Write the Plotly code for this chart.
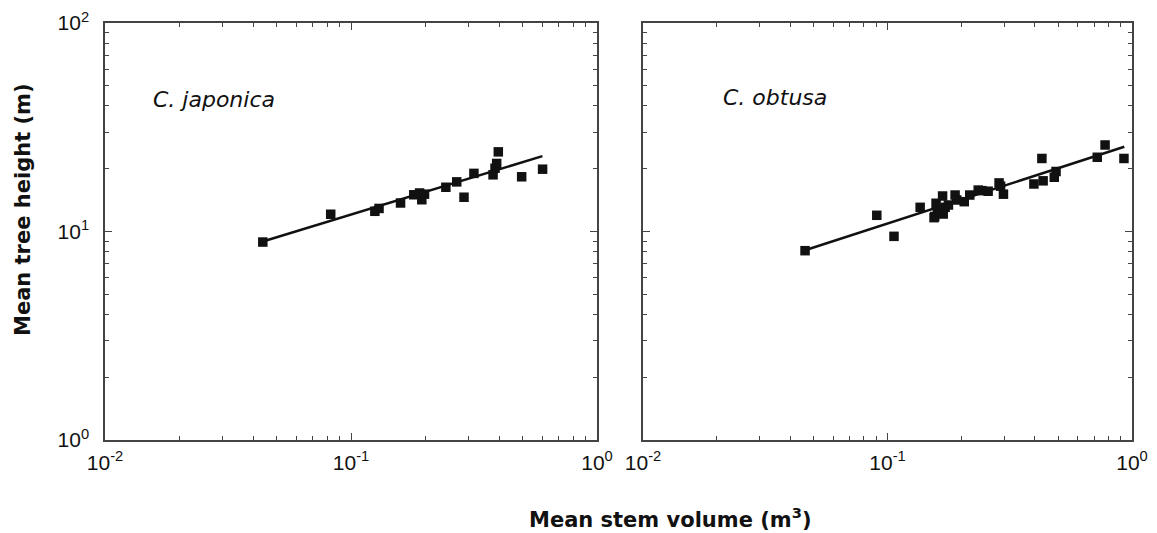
import plotly.graph_objects as go

# C. japonica data (mean stem volume m3, mean tree height m)
jap_volume = [0.0438, 0.0827, 0.125, 0.130, 0.159, 0.180, 0.190, 0.194, 0.199, 0.243,
              0.269, 0.288, 0.316, 0.378, 0.385, 0.391, 0.397, 0.494, 0.601]
jap_height = [8.9, 12.1, 12.5, 12.9, 13.7, 15.0, 15.3, 14.2, 15.1, 16.3,
              17.3, 14.6, 19.0, 18.7, 20.1, 21.2, 24.1, 18.3, 19.9]
jap_fit_volume = [0.0438, 0.60]
jap_fit_height = [8.95, 23.0]

# C. obtusa data
obt_volume = [0.0460, 0.0904, 0.1063, 0.136, 0.155, 0.156, 0.158, 0.160, 0.168, 0.169,
              0.172, 0.1775, 0.189, 0.192, 0.206, 0.217, 0.235, 0.243, 0.258, 0.286,
              0.290, 0.298, 0.397, 0.428, 0.433, 0.481, 0.489, 0.721, 0.776, 0.927]
obt_height = [8.09, 11.96, 9.48, 13.06, 11.65, 11.8, 13.66, 12.45, 14.8, 12.13,
              13.06, 13.4, 14.96, 14.16, 13.9, 14.96, 15.8, 15.7, 15.6, 17.1,
              16.5, 15.1, 16.9, 22.4, 17.5, 18.2, 19.4, 22.7, 26.0, 22.4]
obt_fit_volume = [0.0470, 0.93]
obt_fit_height = [8.2, 25.5]

x_tickvals = [0.01, 0.1, 1]
x_ticktext = ["10<sup>-2</sup>", "10<sup>-1</sup>", "10<sup>0</sup>"]
y_tickvals = [1, 10, 100]
y_ticktext = ["10<sup>0</sup>", "10<sup>1</sup>", "10<sup>2</sup>"]

INK = "#111111"
AXC = "#444444"
FONT = "Liberation Sans"
TFONT = "DejaVu Sans"

fig = go.Figure()

for xs, ys, fx, fy, xa, ya in [
    (jap_volume, jap_height, jap_fit_volume, jap_fit_height, "x", "y"),
    (obt_volume, obt_height, obt_fit_volume, obt_fit_height, "x2", "y2"),
]:
    fig.add_trace(go.Scatter(x=fx, y=fy, mode="lines", line=dict(color=INK, width=2.5),
                             xaxis=xa, yaxis=ya, showlegend=False, hoverinfo="skip"))
    fig.add_trace(go.Scatter(x=xs, y=ys, mode="markers",
                             marker=dict(symbol="square", size=9.5, color=INK),
                             xaxis=xa, yaxis=ya, showlegend=False))

common_x = dict(type="log", range=[-2, 0], tickvals=x_tickvals, ticktext=x_ticktext,
                ticks="inside", ticklen=7, tickcolor=AXC, mirror="ticks", automargin=False,
                ticklabelstandoff=3,
                showline=True, linecolor=AXC, linewidth=1.5, showgrid=False, zeroline=False,
                tickfont=dict(family=FONT, size=21, color=INK),
                minor=dict(ticks="inside", ticklen=4, tickcolor=AXC, showgrid=False,
                           tickvals=[0.02, 0.03, 0.04, 0.05, 0.06, 0.07, 0.08, 0.09,
                                     0.2, 0.3, 0.4, 0.5, 0.6, 0.7, 0.8, 0.9]))
common_y = dict(type="log", range=[0, 2], tickvals=y_tickvals,
                ticks="inside", ticklen=7, tickcolor=AXC, mirror="ticks", automargin=False,
                showline=True, linecolor=AXC, linewidth=1.5, showgrid=False, zeroline=False,
                tickfont=dict(family=FONT, size=21, color=INK),
                minor=dict(ticks="inside", ticklen=4, tickcolor=AXC, showgrid=False,
                           tickvals=[2, 3, 4, 5, 6, 7, 8, 9, 20, 30, 40, 50, 60, 70, 80, 90]))

y_dom = [93 / 533, 510 / 533]
fig.update_layout(
    width=1157, height=533,
    margin=dict(l=0, r=0, t=0, b=0, autoexpand=False),
    paper_bgcolor="white", plot_bgcolor="white",
    xaxis=dict(domain=[105 / 1157, 597 / 1157], anchor="y", **common_x),
    yaxis=dict(domain=y_dom, anchor="x", ticktext=y_ticktext, ticklabelstandoff=10, **common_y),
    xaxis2=dict(domain=[643 / 1157, 1132 / 1157], anchor="y2", **common_x),
    yaxis2=dict(domain=y_dom, anchor="x2", showticklabels=False, **common_y),
    annotations=[
        dict(text="<i>C. japonica</i>", xref="paper", yref="paper",
             x=151 / 1157, y=1 - 100 / 533, xanchor="left", yanchor="middle",
             showarrow=False, font=dict(family=TFONT, size=22, color=INK)),
        dict(text="<i>C. obtusa</i>", xref="paper", yref="paper",
             x=721 / 1157, y=1 - 97 / 533, xanchor="left", yanchor="middle",
             showarrow=False, font=dict(family=TFONT, size=22, color=INK)),
        dict(text="<b>Mean stem volume (m<sup>3</sup>)</b>", xref="paper", yref="paper",
             x=670 / 1157, y=1 - 518 / 533, xanchor="center", yanchor="middle",
             showarrow=False, font=dict(family=TFONT, size=21, color=INK)),
        dict(text="<b>Mean tree height (m)</b>", xref="paper", yref="paper",
             x=23 / 1157, y=1 - 210 / 533, xanchor="center", yanchor="middle", textangle=-90,
             showarrow=False, font=dict(family=TFONT, size=21, color=INK)),
    ],
)

fig.write_html("out.html")
